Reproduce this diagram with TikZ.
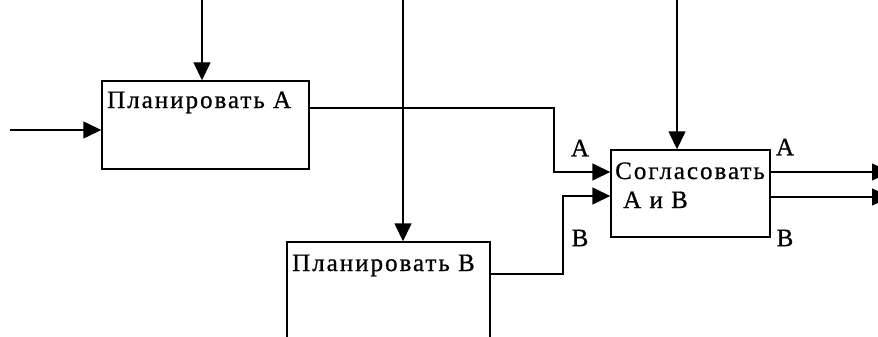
\documentclass[tikz,border=0pt]{standalone}
\usepackage{fontspec}
\newfontfamily\diafont[LetterSpace=8,FakeBold=0.8]{Liberation Serif}
\usetikzlibrary{arrows.meta}
\tikzset{
  x=1pt, y=-1pt,
  blk/.style={draw, line width=1.4pt, minimum width=#1, inner sep=0pt},
  txt/.style={font=\diafont\fontsize{25}{29}\selectfont, inner sep=0pt, anchor=base west},
  lbl/.style={font=\diafont\fontsize{25}{29}\selectfont, inner sep=0pt},
  conn/.style={line width=1.4pt, -{Triangle[length=18pt,width=17pt]}},
}
\begin{document}
\begin{tikzpicture}
\useasboundingbox (0,0) rectangle (878,337);
\clip (0,0) rectangle (878,337);
% boxes
\node[blk=207pt, minimum height=88pt] (pa) at (205.5,125) {};
\node[blk=203pt, minimum height=118pt] (pb) at (388.5,301) {};
\node[blk=159pt, minimum height=87pt] (sc) at (690.5,193.5) {};
% texts
\node[txt] (ta) at (107,108) {Планировать А};
\node[txt] (tb) at (292,271) {Планировать В};
\node[txt] (tc1) at (615,179) {Согласовать};
\node[txt] (tc2) at (623,208) {А и В};
% free ends
\coordinate (inA) at (10,130);
\coordinate (ctlA) at (202,0);
\coordinate (ctlB) at (403,0);
\coordinate (ctlC) at (677,0);
\coordinate (outCA) at (890,172);
\coordinate (outCB) at (890,197);
% connectors
\draw[conn] (inA) -- (inA -| pa.west);
\draw[conn] (ctlA) -- (ctlA |- pa.north);
\draw[conn] (ctlB) -- (ctlB |- pb.north);
\draw[conn] (ctlC) -- (ctlC |- sc.north);
\draw[conn] (pa.east |- 0,108) -- (554,108) -- (554,172) -- (sc.west |- 0,172);
\draw[conn] (pb.east |- 0,274) -- (563,274) -- (563,196) -- (sc.west |- 0,196);
\draw[conn] (sc.east |- outCA) -- (outCA);
\draw[conn] (sc.east |- outCB) -- (outCB);
% labels
\node[lbl] (la1) at (580,148) {А};
\node[lbl] (lb1) at (580,238) {В};
\node[lbl] (la2) at (785,147) {А};
\node[lbl] (lb2) at (785,238) {В};
\end{tikzpicture}
\end{document}
